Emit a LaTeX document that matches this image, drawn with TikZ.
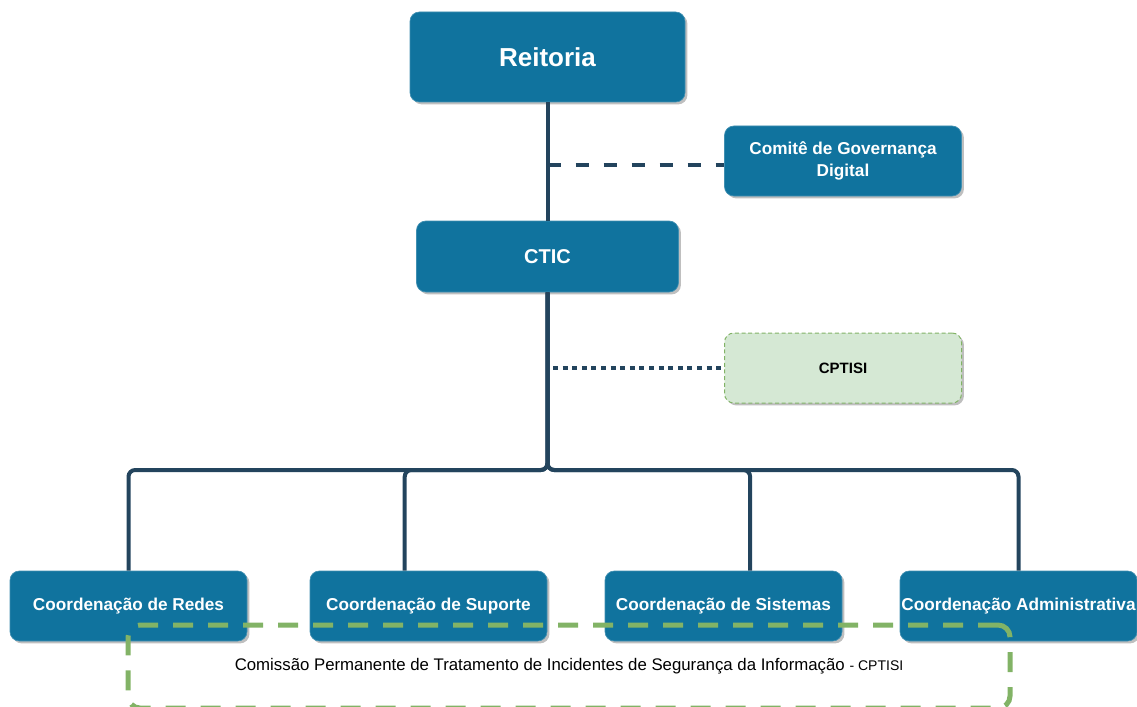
\documentclass[tikz,border=0pt]{standalone}
\usepackage{fontspec}
\setmainfont{Liberation Sans}
\usetikzlibrary{shadows,calc}
\definecolor{boxblue}{HTML}{10739E}
\definecolor{linkblue}{HTML}{23445D}
\definecolor{cpfill}{HTML}{D5E8D4}
\definecolor{cpedge}{HTML}{82B366}
\tikzset{orgbox/.style={draw=boxblue!80!white,line width=0.5pt,fill=boxblue,rounded corners=7pt,
		text=white,align=center,inner sep=0pt,
		drop shadow={shadow xshift=1.8pt,shadow yshift=-1.8pt,fill=black,opacity=0.25}},
	unitbox/.style={orgbox,minimum width=177.75pt,minimum height=52.5pt,
		font=\fontsize{12.9}{16.5}\selectfont\bfseries},
	cpbox/.style={unitbox,fill=cpfill,draw=cpedge,line width=0.75pt,dash pattern=on 3pt off 2pt,
		text=black,font=\fontsize{11.25}{13}\selectfont\bfseries},
	trunk/.style={draw=linkblue,line width=3pt,rounded corners=5pt},
	govlink/.style={draw=linkblue,line width=3pt,dash pattern=on 9.75pt off 11.25pt},
	cplink/.style={draw=linkblue,line width=3.3pt,dash pattern=on 3.75pt off 3.45pt},
	cpframe/.style={draw=cpedge,line width=3.75pt,dash pattern=on 15pt off 11.25pt,
		rounded corners=9pt,inner sep=0pt,font=\fontsize{12.6}{15}\selectfont}}

\begin{document}
\begin{tikzpicture}
	[x=0.75pt,y=-0.75pt]
	\useasboundingbox (0,0) rectangle (1137,706);

	\node [orgbox,minimum width=206.25pt,minimum height=67.5pt,font=\fontsize{19.5}{23}\selectfont\bfseries] (reitoria) at (547.5,57) {Reitoria};
	\node [unitbox] (comite) at (843,161) {Comitê de Governança\\Digital};
	\node [orgbox,minimum width=196.5pt,minimum height=53.25pt,font=\fontsize{15}{18}\selectfont\bfseries] (ctic) at (547.5,256.5) {CTIC};
	\node [cpbox] (cptisi) at (843,368) {CPTISI};

	\node [unitbox] (redes) at (128.5,606) {Coordenação de Redes};
	\node [unitbox] (suporte) at (428.5,606) {Coordenação de Suporte};
	\node [unitbox] (sistemas) at (723.5,606) {Coordenação de Sistemas};
	\node [unitbox] (admin) at (1018.5,606) {Coordenação Administrativa};

	\coordinate (tapgov) at (547.5,165);
	\coordinate (tapcp) at (553,368);
	\coordinate (split) at (547.5,470);

	\draw [trunk] (reitoria) -- (ctic);
	\draw [govlink] (tapgov) -- (tapgov -| comite.west);
	\draw [cplink] (tapcp) -- (cptisi.west);
	\foreach \unit/\pos in {redes/0.5,suporte/0.4,sistemas/0.612,admin/0.5}
		\draw [trunk] (ctic.south) -- (split) -| ($(\unit.north west)!\pos!(\unit.north east)$);

	\node [cpframe,minimum width=661.5pt,minimum height=62.25pt] (cpgroup) at (569,666.5)
		{Comissão Permanente de Tratamento de Incidentes de Segurança da Informação {\fontsize{10.5}{12}\selectfont- CPTISI}};
\end{tikzpicture}
\end{document}
